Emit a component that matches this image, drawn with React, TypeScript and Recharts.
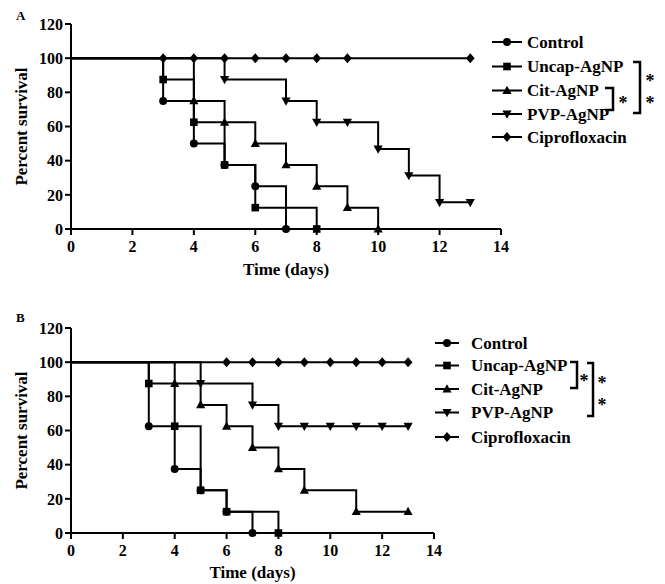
import React from 'react';
import { LineChart, Line, XAxis, YAxis, Legend, Label } from 'recharts';

const FONT = '"Liberation Serif", "Times New Roman", Times, serif';

const seriesNames = ['Control', 'Uncap-AgNP', 'Cit-AgNP', 'PVP-AgNP', 'Ciprofloxacin'];
const xTicks = [0, 2, 4, 6, 8, 10, 12, 14];
const yTicks = [0, 20, 40, 60, 80, 100, 120];

// Panel A
const controlDaysA = [0, 3, 4, 5, 6, 7];
const controlA = [100, 75, 50, 37.5, 25, 0];
const uncapDaysA = [0, 3, 4, 5, 6, 8];
const uncapA = [100, 87.5, 62.5, 37.5, 12.5, 0];
const citDaysA = [0, 4, 5, 6, 7, 8, 9, 10];
const citA = [100, 75, 62.5, 50, 37.5, 25, 12.5, 0];
const pvpDaysA = [0, 5, 7, 8, 9, 10, 11, 12, 13];
const pvpA = [100, 87.5, 75, 62.5, 62.5, 46.9, 31.3, 15.6, 15.6];
const ciproDaysA = [0, 3, 4, 5, 6, 7, 8, 9, 13];
const ciproA = [100, 100, 100, 100, 100, 100, 100, 100, 100];

// Panel B
const controlDaysB = [0, 3, 4, 5, 6, 7];
const controlB = [100, 62.5, 37.5, 25, 12.5, 0];
const uncapDaysB = [0, 3, 4, 5, 6, 8];
const uncapB = [100, 87.5, 62.5, 25, 12.5, 0];
const citDaysB = [0, 4, 5, 6, 7, 8, 9, 11, 13];
const citB = [100, 87.5, 75, 62.5, 50, 37.5, 25, 12.5, 12.5];
const pvpDaysB = [0, 5, 7, 8, 9, 10, 11, 12, 13];
const pvpB = [100, 87.5, 75, 62.5, 62.5, 62.5, 62.5, 62.5, 62.5];
const ciproDaysB = [0, 6, 7, 8, 9, 10, 11, 12, 13];
const ciproB = [100, 100, 100, 100, 100, 100, 100, 100, 100];

type Shape = 'circle' | 'square' | 'triangle' | 'triangleDown' | 'diamond';
const shapes: Shape[] = ['circle', 'square', 'triangle', 'triangleDown', 'diamond'];

const toRows = (days: number[], vals: number[]) => days.map((d, i) => ({ day: d, value: vals[i] }));

const panelA = [
  toRows(controlDaysA, controlA),
  toRows(uncapDaysA, uncapA),
  toRows(citDaysA, citA),
  toRows(pvpDaysA, pvpA),
  toRows(ciproDaysA, ciproA),
];
const panelB = [
  toRows(controlDaysB, controlB),
  toRows(uncapDaysB, uncapB),
  toRows(citDaysB, citB),
  toRows(pvpDaysB, pvpB),
  toRows(ciproDaysB, ciproB),
];

function Marker({ shape, cx, cy }: { shape: Shape; cx: number; cy: number }) {
  switch (shape) {
    case 'circle':
      return <circle cx={cx} cy={cy} r={4} fill="#000" />;
    case 'square':
      return <rect x={cx - 3.8} y={cy - 3.8} width={7.6} height={7.6} fill="#000" />;
    case 'triangle':
      return <path d={`M${cx},${cy - 4.8}L${cx + 4.6},${cy + 3.4}L${cx - 4.6},${cy + 3.4}Z`} fill="#000" />;
    case 'triangleDown':
      return <path d={`M${cx},${cy + 4.8}L${cx + 4.6},${cy - 3.4}L${cx - 4.6},${cy - 3.4}Z`} fill="#000" />;
    default:
      return <path d={`M${cx},${cy - 5}L${cx + 4.4},${cy}L${cx},${cy + 5}L${cx - 4.4},${cy}Z`} fill="#000" />;
  }
}

const makeDot = (shape: Shape) => (props: any) => {
  const { cx, cy, index } = props;
  if (index === 0 || cx == null || cy == null) return <g key={`d-${index}`} />;
  return (
    <g key={`d-${index}`}>
      <Marker shape={shape} cx={cx} cy={cy} />
    </g>
  );
};

type Bracket = { x: number; y1: number; y2: number; tick: number; stars: number[]; starX: number };

type LegendCfg = {
  left: number;
  top: number;
  rowY: number[];
  lineX1: number;
  lineX2: number;
  textX: number;
  brackets: Bracket[];
};

const legendContent = (cfg: LegendCfg) => () => (
  <svg width={220} height={140} style={{ overflow: 'visible', display: 'block' }}>
    {seriesNames.map((name, i) => {
      const y = cfg.rowY[i];
      const cx = (cfg.lineX1 + cfg.lineX2) / 2;
      return (
        <g key={name}>
          <line x1={cfg.lineX1} x2={cfg.lineX2} y1={y} y2={y} stroke="#000" strokeWidth={2} />
          <Marker shape={shapes[i]} cx={cx} cy={y} />
          <text
            x={cfg.textX}
            y={y}
            dy="0.35em"
            fontFamily={FONT}
            fontWeight="bold"
            fontSize={17}
            fill="#000"
            style={{ fill: '#000' }}
          >
            {name}
          </text>
        </g>
      );
    })}
    {cfg.brackets.map((b, k) => (
      <g key={`b-${k}`}>
        <path
          d={`M${b.x - b.tick},${b.y1}L${b.x},${b.y1}L${b.x},${b.y2}L${b.x - b.tick},${b.y2}`}
          fill="none"
          stroke="#000"
          strokeWidth={2.5}
        />
        {b.stars.map((sy, j) => (
          <text
            key={j}
            x={b.starX}
            y={sy + 9}
            textAnchor="middle"
            fontFamily={FONT}
            fontWeight="bold"
            fontSize={18}
            fill="#000"
            style={{ fill: '#000' }}
          >
            *
          </text>
        ))}
      </g>
    ))}
  </svg>
);

type PanelProps = {
  data: { day: number; value: number }[][];
  height: number;
  margin: { top: number; right: number; bottom: number; left: number };
  legend: LegendCfg;
  xLabelOffset: number;
};

function Panel({ data, height, margin, legend, xLabelOffset }: PanelProps) {
  const tickStyle = { fill: '#000', fontSize: 16, fontWeight: 'bold', fontFamily: FONT };
  return (
    <LineChart width={665} height={height} margin={margin}>
      <XAxis
        type="number"
        dataKey="day"
        domain={[0, 14]}
        ticks={xTicks}
        interval={0}
        height={50}
        tickSize={6}
        tickMargin={6}
        axisLine={{ stroke: '#000', strokeWidth: 2 }}
        tickLine={{ stroke: '#000', strokeWidth: 2 }}
        tick={tickStyle}
      >
        <Label
          value="Time (days)"
          position="insideBottom"
          offset={xLabelOffset}
          style={{ fontFamily: FONT, fontWeight: 'bold', fontSize: 17, fill: '#000' }}
        />
      </XAxis>
      <YAxis
        type="number"
        domain={[0, 120]}
        ticks={yTicks}
        interval={0}
        width={71}
        tickSize={6}
        tickMargin={2}
        axisLine={{ stroke: '#000', strokeWidth: 2 }}
        tickLine={{ stroke: '#000', strokeWidth: 2 }}
        tick={tickStyle}
      >
        <Label
          value="Percent survival"
          position="insideLeft"
          angle={-90}
          offset={21}
          style={{ fontFamily: FONT, fontWeight: 'bold', fontSize: 17, fill: '#000', textAnchor: 'middle' }}
        />
      </YAxis>
      <Legend
        layout="vertical"
        align="center"
        verticalAlign="middle"
        wrapperStyle={{ left: legend.left, top: legend.top, width: 220, height: 140 }}
        content={legendContent(legend)}
      />
      {data.map((rows, i) => (
        <Line
          key={seriesNames[i]}
          name={seriesNames[i]}
          data={rows}
          dataKey="value"
          type="stepAfter"
          stroke="#000"
          strokeWidth={2}
          dot={makeDot(shapes[i])}
          activeDot={false}
          isAnimationActive={false}
        />
      ))}
    </LineChart>
  );
}

const legendA: LegendCfg = {
  left: 480,
  top: 25,
  rowY: [17, 41.5, 65.5, 89, 112],
  lineX1: 12,
  lineX2: 42,
  textX: 47,
  brackets: [
    { x: 160, y1: 37, y2: 88, tick: 7, stars: [53, 75], starX: 170 },
    { x: 133, y1: 63, y2: 85, tick: 8, stars: [75], starX: 143 },
  ],
};

const legendB: LegendCfg = {
  left: 425,
  top: 20,
  rowY: [33, 55.5, 79, 102.5, 127],
  lineX1: 10,
  lineX2: 34,
  textX: 46,
  brackets: [
    { x: 152, y1: 52, y2: 78, tick: 7, stars: [68], starX: 159 },
    { x: 168, y1: 53, y2: 106, tick: 6, stars: [70, 92], starX: 177 },
  ],
};

export default function App() {
  const panelLabel = { position: 'absolute' as const, fontFamily: FONT, fontWeight: 'bold' as const, fontSize: 13, lineHeight: '13px', color: '#000' };
  return (
    <div style={{ position: 'absolute', left: 0, top: 0, width: 665, height: 584, background: '#fff' }}>
      <div style={{ position: 'absolute', left: 0, top: 0 }}>
        <Panel
          data={panelA}
          height={290}
          margin={{ top: 24, right: 164, bottom: 11, left: 0 }}
          legend={legendA}
          xLabelOffset={4}
        />
      </div>
      <div style={{ position: 'absolute', left: 0, top: 290 }}>
        <Panel
          data={panelB}
          height={294}
          margin={{ top: 38, right: 231, bottom: 1, left: 0 }}
          legend={legendB}
          xLabelOffset={5}
        />
      </div>
      <div style={{ ...panelLabel, left: 16, top: 9 }}>A</div>
      <div style={{ ...panelLabel, left: 16, top: 311 }}>B</div>
    </div>
  );
}
